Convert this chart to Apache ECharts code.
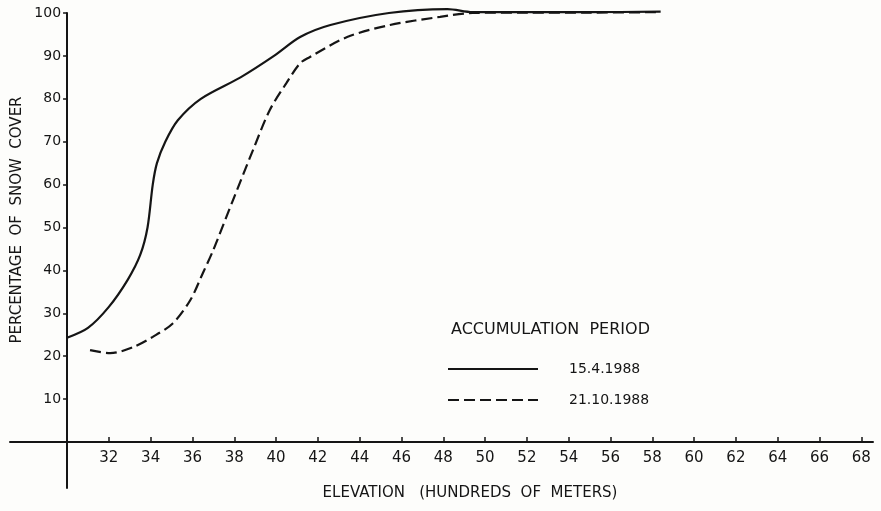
<!DOCTYPE html>
<html>
<head>
<meta charset="utf-8">
<style>
  html, body { margin: 0; padding: 0; background: #fdfdfb; }
  #chart { width: 881px; height: 511px; }
</style>
<script src="https://cdn.jsdelivr.net/npm/echarts@6/dist/echarts.min.js"></script>
</head>
<body>
<div id="chart"></div>
<script>
// tick labels
const elevTicks = [32, 34, 36, 38, 40, 42, 44, 46, 48, 50, 52, 54, 56, 58, 60, 62, 64, 66, 68]
const coverTicks = [10, 20, 30, 40, 50, 60, 70, 80, 90, 100]

// 15.4.1988 (solid)
const aprilElev = [30, 31, 32, 32.9, 33.5, 33.85, 34.1, 34.3, 34.7, 35.3, 36.4, 38.3, 39.9, 41.15, 42.6, 45.4, 48.2, 49.4, 52, 55, 58.4]
const aprilCover = [24.3, 26.6, 31.5, 37.8, 43.6, 50, 60, 65, 70, 75, 80, 85, 90, 94.4, 97.2, 100, 100.9, 100.2, 100.2, 100.2, 100.3]

// 21.10.1988 (dashed)
const octElev = [31.1, 32.06, 33.16, 34.1, 35.07, 35.9, 36.5, 37.0, 37.94, 38.9, 39.7, 40.5, 41.15, 41.6, 43.4, 45.45, 47.85, 49.4, 52, 55, 58.4]
const octCover = [21.4, 20.7, 22.1, 24.5, 27.7, 33.1, 39.4, 44.8, 56.4, 68.1, 77.4, 83.7, 88.3, 89.7, 94.4, 97.2, 99.1, 100, 100.1, 100.1, 100.2]

const xMin = 27.27
const xMax = 68.56
const ink = '#151515'
const font = 'DejaVu Sans'

const zip = (xs, ys) => xs.map((x, i) => [x, ys[i]])

const chart = echarts.init(document.getElementById('chart'))
const gridLeft = 10, gridRight = 8
const gridWidth = 881 - gridLeft - gridRight
// move the y axis from the grid edge to elevation 30
const yOffset = -(30 - xMin) / (xMax - xMin) * gridWidth

chart.setOption({
  backgroundColor: '#fdfdfb',
  animation: false,
  title: {
    text: 'ACCUMULATION  PERIOD',
    left: 446,
    top: 317,
    textStyle: { color: ink, fontFamily: font, fontSize: 16, fontWeight: 'normal' }
  },
  legend: {
    orient: 'vertical',
    left: 442,
    top: 357,
    itemWidth: 90,
    itemHeight: 12,
    itemGap: 17,
    data: ['15.4.1988', '21.10.1988'],
    itemStyle: { opacity: 0 },
    textStyle: { color: ink, fontFamily: font, fontSize: 14, padding: [0, 0, 0, 26] }
  },
  grid: [
    { left: gridLeft, right: gridRight, top: 13, bottom: 69 },
    { left: gridLeft, right: gridRight, top: 442, bottom: 23 }
  ],
  xAxis: [
    {
      type: 'value',
      min: xMin,
      max: xMax,
      axisLine: { lineStyle: { color: ink, width: 2 } },
      axisTick: { inside: true, length: 5, customValues: elevTicks, lineStyle: { color: ink, width: 1.5 } },
      axisLabel: { customValues: elevTicks, color: ink, fontFamily: font, fontSize: 15, margin: 9 },
      splitLine: { show: false }
    },
    { gridIndex: 1, type: 'value', min: xMin, max: xMax, show: false }
  ],
  yAxis: [
    {
      type: 'value',
      min: 0,
      max: 100,
      offset: yOffset,
      axisLine: { show: true, onZero: false, lineStyle: { color: ink, width: 2 } },
      axisTick: { show: true, length: 4, customValues: coverTicks, lineStyle: { color: ink, width: 1.5 } },
      axisLabel: { customValues: coverTicks, color: ink, fontFamily: font, fontSize: 14, margin: 6 },
      splitLine: { show: false }
    },
    {
      gridIndex: 1,
      type: 'value',
      min: 0,
      max: 1,
      offset: yOffset,
      axisLine: { show: true, onZero: false, lineStyle: { color: ink, width: 2 } },
      axisTick: { show: false },
      axisLabel: { show: false },
      splitLine: { show: false }
    }
  ],
  graphic: [
    {
      type: 'text',
      x: 17, y: 220,
      rotation: Math.PI / 2,
      style: {
        text: 'PERCENTAGE  OF  SNOW  COVER',
        fill: ink, font: '15px "DejaVu Sans"',
        align: 'center', verticalAlign: 'middle'
      }
    },
    {
      type: 'text',
      x: 470, y: 493,
      style: {
        text: 'ELEVATION   (HUNDREDS  OF  METERS)',
        fill: ink, font: '15px "DejaVu Sans"',
        align: 'center', verticalAlign: 'middle'
      }
    }
  ],
  series: [
    {
      name: '15.4.1988',
      type: 'line',
      smooth: 0.3,
      symbol: 'none',
      clip: false,
      data: zip(aprilElev, aprilCover),
      lineStyle: { color: ink, width: 2.2 },
      itemStyle: { color: ink }
    },
    {
      name: '21.10.1988',
      type: 'line',
      smooth: 0.3,
      symbol: 'none',
      clip: false,
      data: zip(octElev, octCover),
      lineStyle: { color: ink, width: 2.2, type: [11, 5] },
      itemStyle: { color: ink }
    }
  ]
})
</script>
</body>
</html>
